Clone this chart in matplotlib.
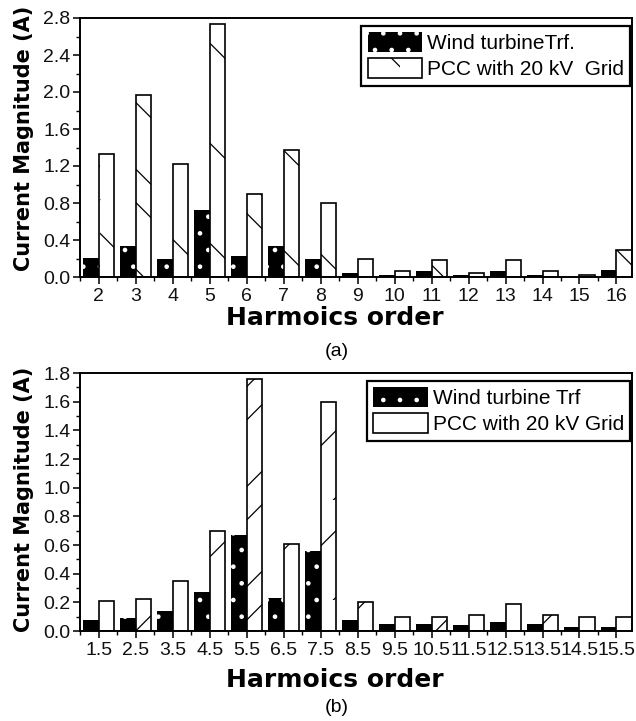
import matplotlib
matplotlib.use("Agg")
import matplotlib.pyplot as plt
import numpy as np
from matplotlib.backend_bases import GraphicsContextBase
from matplotlib.ticker import MultipleLocator

# sparser hatching than matplotlib's default (6 lines per inch)
_orig_hatch = GraphicsContextBase.get_hatch_path


def _sparse_hatch(self, density=6.0):
    return _orig_hatch(self, density=3)


GraphicsContextBase.get_hatch_path = _sparse_hatch

plt.rcParams["hatch.linewidth"] = 0.9
plt.rcParams["font.family"] = ["Liberation Sans", "DejaVu Sans"]

# ---- data --------------------------------------------------------------------
harm_a = [2, 3, 4, 5, 6, 7, 8, 9, 10, 11, 12, 13, 14, 15, 16]
wind_a = [0.21, 0.33, 0.20, 0.72, 0.23, 0.33, 0.20, 0.04, 0.02, 0.06,
          0.02, 0.06, 0.02, 0.0, 0.08]
pcc_a = [1.33, 1.97, 1.22, 2.73, 0.90, 1.37, 0.80, 0.19, 0.06, 0.18,
         0.04, 0.18, 0.06, 0.02, 0.29]

harm_b = [1.5, 2.5, 3.5, 4.5, 5.5, 6.5, 7.5, 8.5, 9.5, 10.5, 11.5, 12.5,
          13.5, 14.5, 15.5]
wind_b = [0.08, 0.09, 0.14, 0.27, 0.67, 0.23, 0.56, 0.08, 0.05, 0.05,
          0.04, 0.06, 0.05, 0.03, 0.03]
pcc_b = [0.21, 0.22, 0.35, 0.70, 1.76, 0.61, 1.60, 0.20, 0.10, 0.10,
         0.11, 0.19, 0.11, 0.10, 0.10]

labels_a = ["Wind turbineTrf.", "PCC with 20 kV  Grid"]
labels_b = ["Wind turbine Trf", "PCC with 20 kV Grid"]

W = 0.42
TICK_FS = 14
BOLD = dict(family="DejaVu Sans", fontweight="bold")


def panel(ax, x, wind, pcc, labels, hatch, ymax, ystep, xlab_y, ylab_y):
    x = np.asarray(x)
    ax.bar(x - W / 2, wind, width=W, facecolor="black", edgecolor="white",
           linewidth=0, hatch="..", label=labels[0], zorder=2)
    ax.bar(x + W / 2, pcc, width=W, facecolor="white", edgecolor="black",
           linewidth=1.2, hatch=hatch, label=labels[1], zorder=2)

    ax.set_xlim(x[0] - 0.51, x[-1] + 0.42)
    ax.set_ylim(0, ymax)
    ax.set_xticks(x)
    ax.set_xticklabels([f"{v:g}" for v in x])
    ax.xaxis.set_minor_locator(MultipleLocator(0.5))
    yt = np.arange(0, ymax + 1e-9, ystep)
    ax.set_yticks(yt)
    ax.set_yticklabels([f"{v:.1f}" for v in yt])
    ax.yaxis.set_minor_locator(MultipleLocator(ystep / 2))
    ax.tick_params(which="major", direction="out", length=5, width=1.2,
                   labelsize=TICK_FS, pad=2, colors="#111")
    ax.tick_params(which="minor", direction="out", length=3, width=1.0)
    ax.tick_params(axis="x", which="major", pad=3)
    for s in ax.spines.values():
        s.set_linewidth(1.4)

    ax.set_xlabel("Harmoics order", fontsize=18, **BOLD)
    ax.xaxis.set_label_coords(0.462, xlab_y)
    ax.set_ylabel("Current Magnitude (A)", fontsize=15, **BOLD)
    ax.yaxis.set_label_coords(-0.083, ylab_y)

    leg = ax.legend(loc="upper right", bbox_to_anchor=(0.997, 0.97),
                    borderaxespad=0, fontsize=15, fancybox=False,
                    framealpha=1, edgecolor="black", handlelength=2.6,
                    handleheight=1.1, handletextpad=0.25, labelspacing=0.25,
                    borderpad=0.3)
    leg.get_frame().set_linewidth(1.6)


fig = plt.figure(figsize=(6.36, 7.21), dpi=100)
ax_a = fig.add_axes([80 / 636, 1 - 277 / 721, 552 / 636, 259 / 721])
ax_b = fig.add_axes([80 / 636, 1 - 631 / 721, 552 / 636, 258 / 721])

panel(ax_a, harm_a, wind_a, pcc_a, labels_a, "\\", 2.8, 0.4, -0.112, 0.535)
panel(ax_b, harm_b, wind_b, pcc_b, labels_b, "/", 1.8, 0.2, -0.143, 0.51)

fig.text(337 / 636, 1 - 352 / 721, "(a)", ha="center", va="center", fontsize=14)
fig.text(337 / 636, 1 - 707 / 721, "(b)", ha="center", va="center", fontsize=14)

fig.savefig("out.png", dpi=100)
